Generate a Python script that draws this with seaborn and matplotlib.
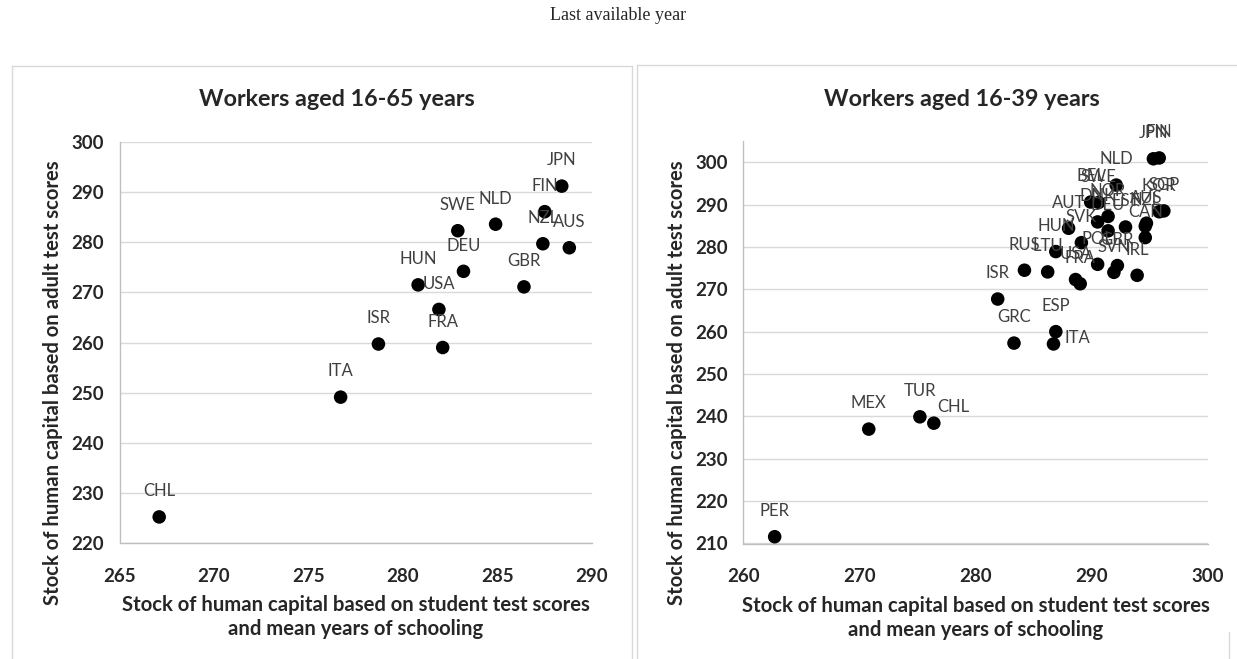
import matplotlib
matplotlib.use("Agg")
import matplotlib.pyplot as plt
from matplotlib.lines import Line2D
import seaborn as sns
import pandas as pd

# ---------------- data ----------------
left_countries = ["JPN", "FIN", "NZL", "AUS", "NLD", "SWE", "DEU", "GBR", "HUN",
                  "USA", "FRA", "ISR", "ITA", "CHL"]
left_x = [288.4, 287.5, 287.4, 288.8, 284.9, 282.9, 283.2, 286.4, 280.8,
          281.9, 282.1, 278.7, 276.7, 267.1]
left_y = [291.2, 286.1, 279.7, 278.9, 283.6, 282.3, 274.2, 271.1, 271.5,
          266.6, 259.0, 259.7, 249.1, 225.2]

right_countries = ["JPN", "FIN", "NLD", "BEL", "SWE", "DNK", "NOR", "AUT", "DEU",
                   "EST", "NZL", "AUS", "CAN", "KOR", "SGP", "SVK", "HUN", "POL",
                   "GBR", "SVN", "IRL", "RUS", "LTU", "USA", "FRA", "ISR", "GRC",
                   "ESP", "ITA", "MEX", "TUR", "CHL", "PER"]
right_x = [295.3, 295.8, 292.1, 289.9, 290.6, 290.5, 291.4, 288.0, 291.4,
           292.9, 294.6, 294.7, 294.6, 295.8, 296.2, 289.1, 286.9, 290.5,
           292.2, 291.9, 293.9, 284.2, 286.2, 288.6, 289.0, 281.9, 283.3,
           286.9, 286.7, 270.8, 275.2, 276.4, 262.7]
right_y = [300.8, 301.0, 294.6, 290.6, 290.5, 285.9, 287.2, 284.4, 283.8,
           284.7, 284.9, 285.6, 282.2, 288.3, 288.5, 281.0, 278.9, 275.9,
           275.6, 274.0, 273.3, 274.5, 274.1, 272.3, 271.3, 267.7, 257.3,
           260.0, 257.1, 237.0, 239.9, 238.4, 211.6]

left_xticks = [265, 270, 275, 280, 285, 290]
left_yticks = [220, 230, 240, 250, 260, 270, 280, 290, 300]
right_xticks = [260, 270, 280, 290, 300]
right_yticks = [210, 220, 230, 240, 250, 260, 270, 280, 290, 300]

main_title = "Last available year"
left_title = "Workers aged 16-65 years"
right_title = "Workers aged 16-39 years"
x_label = "Stock of human capital based on student test scores\nand mean years of schooling"
y_label = "Stock of human capital based on adult test scores"

# ---------------- style ----------------
sns.set_style("white")
plt.rcParams["font.family"] = ["Lato", "DejaVu Sans"]

W, H = 1237, 659
fig = plt.figure(figsize=(W / 100, H / 100), dpi=100)

def fx(px):
    return px / W

def fy(py):
    return 1 - py / H

grid_c = "#d9d9d9"
spine_c = "#bfbfbf"
label_c = "#404040"

def panel(rect, countries, xs, ys, xlim, ylim, xticks, yticks, title_x, title, special):
    ax = fig.add_axes(rect)
    df = pd.DataFrame({"country": countries, "x": xs, "y": ys})
    sns.scatterplot(data=df, x="x", y="y", ax=ax, color="black", s=95,
                    edgecolor="none", linewidth=0, zorder=3, legend=False)
    for c, x, y in zip(countries, xs, ys):
        dx, dy, ha = special.get(c, (0, 18.5, "center"))
        ax.annotate(c, (x, y), xytext=(dx, dy), textcoords="offset points",
                    ha=ha, va="center", fontsize=12, color=label_c, zorder=4)
    ax.set_xlim(*xlim)
    ax.set_ylim(*ylim)
    ax.set_xticks(xticks)
    ax.set_yticks(yticks)
    ax.set_xticklabels([str(t) for t in xticks], fontweight="bold", fontsize=13.5)
    ax.set_yticklabels([str(t) for t in yticks], fontweight="bold", fontsize=13.5)
    ax.tick_params(axis="both", length=0)
    ax.tick_params(axis="x", pad=18)
    ax.tick_params(axis="y", pad=11)
    for yv in yticks:
        ax.axhline(yv, color=grid_c, lw=1.0, zorder=1)
    for s in ["top", "right"]:
        ax.spines[s].set_visible(False)
    for s in ["left", "bottom"]:
        ax.spines[s].set_color(spine_c)
        ax.spines[s].set_linewidth(1.0)
    ax.set_xlabel(x_label, fontweight="bold", fontsize=14.6, linespacing=1.25)
    ax.set_ylabel(y_label, fontweight="bold", fontsize=14.6, va="center")
    axw = rect[2] * W
    ax.xaxis.set_label_coords(0.5, -0.13)
    ax.yaxis.set_label_coords(-66.0 / axw, 0.40)
    fig.text(fx(title_x), fy(100), title, ha="center", va="center",
             fontsize=16.8, fontweight="bold")
    return ax

ax1 = panel([fx(119.5), fy(543), (592 - 119.5) / W, (543 - 142) / H],
            left_countries, left_x, left_y, (265, 290), (220, 300),
            left_xticks, left_yticks, 337, left_title, {})

ax2 = panel([fx(743.3), fy(543.5), (1208 - 743.3) / W, (543.5 - 141) / H],
            right_countries, right_x, right_y, (260, 300), (210, 305),
            right_xticks, right_yticks, 962, right_title,
            {"ITA": (8, 4, "left"), "CHL": (14, 12, "center")})

fig.text(0.5, fy(16), main_title, ha="center", va="center", fontsize=13,
         family=["Liberation Serif", "DejaVu Serif"])

# panel frames
frame_c = "#d9d9d9"
for (x0, y0, x1, y1) in [(12, 66, 632, 66), (12, 66, 12, 659), (632, 66, 632, 659),
                         (637, 65, 1237, 65), (637, 65, 637, 659), (1229, 632, 1229, 659)]:
    fig.add_artist(Line2D([fx(x0), fx(x1)], [fy(y0), fy(y1)],
                          transform=fig.transFigure, color=frame_c, lw=1.0))

fig.savefig("out.png", dpi=100)
